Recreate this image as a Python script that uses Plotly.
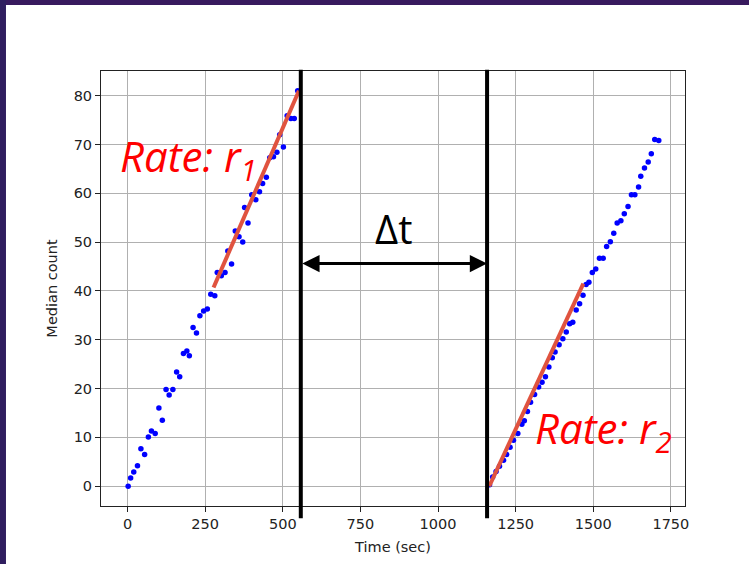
import plotly.graph_objects as go

# ---- data ----
seg1_t = [2, 10, 20, 32, 43, 55, 67, 77, 89, 101, 112, 124, 134, 146, 158, 168, 180, 191, 199,
          211, 222, 233, 245, 257, 268, 281, 289, 302, 314, 323, 335, 347, 359, 371, 377, 388,
          400, 413, 425, 435, 447, 458, 470, 481, 490, 502, 514, 526, 537, 548]
seg1_y = [0, 1.7, 2.9, 4.2, 7.7, 6.5, 10.1, 11.3, 10.8, 16, 13.5, 19.8, 18.7, 19.8, 23.4, 22.4, 27.2, 27.7, 26.7,
          32.5, 31.4, 34.9, 35.9, 36.3, 39.3, 39.0, 43.8, 43.1, 43.8, 48.2, 45.5, 52.3, 51.1, 50.0, 57.1, 53.9,
          59.7, 58.7, 60.3, 62.0, 63.3, 67.3, 67.5, 68.4, 72.0, 69.5, 75.9, 75.3, 75.3, 81.0]

seg2_t = [1166, 1176, 1187, 1198, 1211, 1221, 1232, 1243, 1257, 1270, 1278, 1288, 1298, 1311, 1324, 1335,
          1346, 1357, 1368, 1377, 1390, 1402, 1413, 1424, 1434, 1445, 1456, 1467, 1477, 1486, 1497, 1508,
          1520, 1532, 1543, 1555, 1566, 1577, 1589, 1600, 1612, 1623, 1634, 1646, 1653, 1665, 1677, 1687,
          1698, 1711]
seg2_y = [0.3, 1.9, 3.0, 4.1, 5.3, 6.5, 8.0, 9.4, 10.8, 12.7, 13.4, 15.3, 17.2, 18.8, 20.3, 21.3,
          22.4, 24.4, 26.3, 27.5, 29.0, 30.2, 31.6, 33.3, 33.6, 36.1, 37.4, 39.1, 41.3, 41.8, 43.8, 44.5,
          46.7, 46.7, 49.1, 50.1, 51.8, 53.9, 54.4, 55.8, 57.3, 59.7, 59.7, 61.3, 63.5, 65.2, 66.4, 68.1,
          71.0, 70.8]

fit1_t = [277, 552]
fit1_y = [40.7, 81.0]
fit2_t = [1165, 1468]
fit2_y = [0.0, 41.5]

gap_t = [558, 1158]       # boundaries of the gap (delta t)
arrow_y = 45.6

label1_pos = (195, 67.2)
label2_pos = (1533, 11.5)

x_ticks = [0, 250, 500, 750, 1000, 1250, 1500, 1750]
y_ticks = [0, 10, 20, 30, 40, 50, 60, 70, 80]

X_RANGE = [-85.5, 1795.5]
Y_RANGE = [-4.05, 85.05]

FONT = "DejaVu Sans"
RED = "#ff0000"

fig = go.Figure()

fig.add_trace(go.Scatter(x=seg1_t + seg2_t, y=seg1_y + seg2_y, mode="markers",
                         marker=dict(color="#0000ff", size=5.5, line=dict(width=0)),
                         showlegend=False, hoverinfo="x+y"))
fig.add_trace(go.Scatter(x=fit1_t, y=fit1_y, mode="lines",
                         line=dict(color="#e0533f", width=4), showlegend=False))
fig.add_trace(go.Scatter(x=fit2_t, y=fit2_y, mode="lines",
                         line=dict(color="#e0533f", width=4), showlegend=False))

def xpaper(t):
    return (t - X_RANGE[0]) / (X_RANGE[1] - X_RANGE[0])

shapes = []
for t in gap_t:
    shapes.append(dict(type="line", xref="paper", yref="paper",
                       x0=xpaper(t), x1=xpaper(t), y0=-0.028, y1=1.003,
                       line=dict(color="black", width=4), layer="above"))
# dark border of the slide
shapes.append(dict(type="rect", xref="paper", yref="paper", x0=-0.2, x1=1.2, y0=1.152, y1=1.2,
                   fillcolor="#381a5e", line=dict(width=0), layer="below"))
shapes.append(dict(type="rect", xref="paper", yref="paper", x0=-0.2, x1=-0.1627, y0=-0.2, y1=1.2,
                   fillcolor="#2f1e5f", line=dict(width=0), layer="below"))

annotations = [
    dict(x=gap_t[1], y=arrow_y, ax=gap_t[0], ay=arrow_y, xref="x", yref="y", axref="x", ayref="y",
         text="", showarrow=True, arrowside="end+start", arrowhead=2, arrowsize=1.15,
         arrowwidth=3, arrowcolor="black", standoff=0, startstandoff=0),
    dict(x=(gap_t[0] + gap_t[1]) / 2, y=arrow_y + 7.2, xref="x", yref="y", text="Δt",
         showarrow=False, font=dict(family="Open Sans", size=40, color="black")),
    dict(x=label1_pos[0], y=label1_pos[1], xref="x", yref="y", text="<i>Rate: r<sub>1</sub></i>",
         showarrow=False, font=dict(family="Open Sans", size=42, color=RED)),
    dict(x=label2_pos[0], y=label2_pos[1], xref="x", yref="y", text="<i>Rate: r<sub>2</sub></i>",
         showarrow=False, font=dict(family="Open Sans", size=42, color=RED)),
]

axis_common = dict(showgrid=True, gridcolor="#b0b0b0", gridwidth=1, zeroline=False,
                   showline=True, linecolor="#222", linewidth=1, mirror=True,
                   ticks="outside", ticklen=5, tickcolor="#222", tickwidth=1,
                   tickfont=dict(family=FONT, size=14.5, color="#222"))

fig.update_layout(
    width=749, height=564,
    margin=dict(l=101, r=64, t=71, b=58),
    paper_bgcolor="white", plot_bgcolor="white",
    xaxis=dict(range=X_RANGE, tickvals=x_ticks, ticktext=[str(v) for v in x_ticks],
               title=dict(text="Time (sec)", font=dict(family=FONT, size=14.5, color="#222"), standoff=10),
               **axis_common),
    yaxis=dict(range=Y_RANGE, tickvals=y_ticks, ticktext=[str(v) for v in y_ticks],
               title=dict(text="Median count", font=dict(family=FONT, size=14.5, color="#222"), standoff=12),
               **axis_common),
    shapes=shapes, annotations=annotations,
    showlegend=False,
)

fig.write_html("out.html", config={"displayModeBar": False},
               post_script="document.body.style.margin='0';")
